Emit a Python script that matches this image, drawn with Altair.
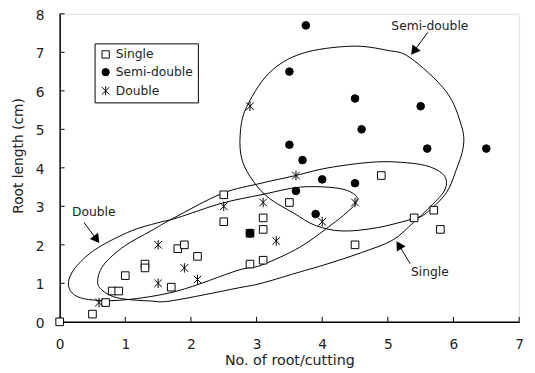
import altair as alt
import pandas as pd

FONT = "DejaVu Sans"

# ---- data ----
series_names = ["Single", "Semi-double", "Double"]

single_x = [0, 0.5, 0.7, 0.8, 0.9, 1.0, 1.3, 1.3, 1.7, 1.8, 1.9, 2.1, 2.5, 2.5, 2.9, 2.9, 3.1, 3.1, 3.1, 3.5, 4.5, 4.9, 5.4, 5.7, 5.8]
single_y = [0, 0.2, 0.5, 0.8, 0.8, 1.2, 1.5, 1.4, 0.9, 1.9, 2.0, 1.7, 3.3, 2.6, 2.3, 1.5, 2.7, 2.4, 1.6, 3.1, 2.0, 3.8, 2.7, 2.9, 2.4]

semi_x = [3.75, 3.5, 4.5, 5.5, 4.6, 3.5, 5.6, 6.5, 3.7, 4.0, 4.5, 3.6, 3.9, 2.9]
semi_y = [7.7, 6.5, 5.8, 5.6, 5.0, 4.6, 4.5, 4.5, 4.2, 3.7, 3.6, 3.4, 2.8, 2.3]

double_x = [0.6, 1.5, 1.5, 1.9, 2.1, 2.5, 2.9, 2.9, 3.1, 3.3, 3.6, 4.0, 4.5]
double_y = [0.5, 2.0, 1.0, 1.4, 1.1, 3.0, 2.3, 5.6, 3.1, 2.1, 3.8, 2.6, 3.1]

# hand-drawn enclosing curves (outline points in data units)
semi_curve_x = [2.75, 2.84, 3.19, 3.69, 4.44, 5.0, 5.34, 5.89, 6.12, 6.15, 6.04, 5.89, 5.59, 5.39, 4.82, 4.3, 3.9, 3.57, 3.2, 2.95, 2.78]
semi_curve_y = [4.85, 5.55, 6.46, 6.97, 7.16, 7.05, 6.86, 5.98, 5.1, 4.55, 3.94, 3.35, 2.83, 2.68, 2.44, 2.36, 2.5, 2.82, 3.2, 3.65, 4.2]

single_curve_x = [0.58, 0.68, 0.99, 1.39, 1.72, 2.47, 3.07, 3.57, 4.09, 4.79, 5.3, 5.65, 5.87, 5.86, 5.62, 5.39, 5.07, 4.6, 4.07, 3.67, 3.07, 2.72, 1.72, 1.39, 0.89, 0.64]
single_curve_y = [1.09, 1.5, 1.97, 2.36, 2.68, 3.33, 3.6, 3.79, 4.0, 4.15, 4.13, 4.02, 3.77, 3.4, 2.95, 2.58, 2.12, 1.8, 1.5, 1.3, 1.0, 0.88, 0.55, 0.54, 0.62, 0.83]

double_curve_x = [0.14, 0.29, 0.59, 1.09, 1.49, 1.79, 2.47, 3.07, 3.67, 4.24, 4.5, 4.52, 4.4, 4.2, 3.67, 3.07, 2.72, 1.79, 0.99, 0.44, 0.19]
double_curve_y = [1.09, 1.51, 1.93, 2.36, 2.57, 2.7, 3.08, 3.3, 3.5, 3.47, 3.3, 3.1, 2.88, 2.6, 1.95, 1.47, 1.34, 0.8, 0.57, 0.58, 0.75]

# annotations
label_text = ["Semi-double", "Double", "Single"]
label_x = [5.64, 0.52, 5.64]
label_y = [7.69, 2.86, 1.30]
arrow_x1 = [5.61, 0.37, 5.34]
arrow_y1 = [7.52, 2.58, 1.51]
arrow_x2 = [5.41, 0.55, 5.18]
arrow_y2 = [7.06, 2.17, 1.96]
arrow_angle = [218, 143, 328]

x_ticks = [0, 1, 2, 3, 4, 5, 6, 7]
y_ticks = [0, 1, 2, 3, 4, 5, 6, 7, 8]

W, H = 467, 313

# ---- tables ----
pts = pd.concat([
    pd.DataFrame({"type": "Single", "x": single_x, "y": single_y}),
    pd.DataFrame({"type": "Semi-double", "x": semi_x, "y": semi_y}),
    pd.DataFrame({"type": "Double", "x": double_x, "y": double_y}),
], ignore_index=True)

curves = pd.concat([
    pd.DataFrame({"name": "semi", "i": range(len(semi_curve_x)), "x": semi_curve_x, "y": semi_curve_y}),
    pd.DataFrame({"name": "single", "i": range(len(single_curve_x)), "x": single_curve_x, "y": single_curve_y}),
    pd.DataFrame({"name": "double", "i": range(len(double_curve_x)), "x": double_curve_x, "y": double_curve_y}),
], ignore_index=True)

ann = pd.DataFrame({"t": label_text, "lx": label_x, "ly": label_y,
                    "x1": arrow_x1, "y1": arrow_y1, "x2": arrow_x2, "y2": arrow_y2,
                    "a": arrow_angle})

xs = alt.Scale(domain=[0, 7], nice=False, zero=False)
ys = alt.Scale(domain=[0, 8], nice=False, zero=False)

x_axis = alt.Axis(values=x_ticks, ticks=False, tickSize=0, grid=False, labelPadding=16,
                  labelFlush=False, labelFontSize=14, labelColor="#222", labelFont=FONT,
                  format="d",
                  title="No. of root/cutting", titleFont=FONT, titleFontSize=14.5,
                  titleFontWeight="normal", titleColor="#222", titleY=43,
                  titleBaseline="alphabetic", domainColor="black", domainWidth=1.5)
y_axis = alt.Axis(values=y_ticks, ticks=False, tickSize=0, grid=False, labelPadding=16,
                  labelFlush=False, labelFontSize=14, labelColor="#222", labelFont=FONT,
                  labelOffset=1.5, format="d",
                  title="Root length (cm)", titleFont=FONT, titleFontSize=14,
                  titleFontWeight="normal", titleColor="#222", titleAngle=270,
                  titleX=-37.5, titleY=144, titleBaseline="alphabetic", titleAlign="center",
                  domainColor="black", domainWidth=1.5)


def X(field):
    return alt.X(field, scale=xs, axis=x_axis, title="No. of root/cutting")


def Y(field):
    return alt.Y(field, scale=ys, axis=y_axis, title="Root length (cm)")


ASTERISK = "M-1,-1L1,1M-1,1L1,-1M0,-1.25L0,1.25"

legend = alt.Legend(title=None, orient="none", legendX=35.5, legendY=30,
                    strokeColor="black", fillColor="white", padding=5,
                    rowPadding=5, symbolSize=55, labelFontSize=12.5, labelFont=FONT,
                    labelColor="#222", symbolStrokeWidth=1, labelOffset=4)

points = alt.Chart(pts).mark_point(opacity=1, strokeWidth=1, size=60).encode(
    x=X("x:Q"), y=Y("y:Q"),
    shape=alt.Shape("type:N", scale=alt.Scale(domain=series_names, range=["square", "circle", ASTERISK]), legend=legend),
    fill=alt.Fill("type:N", scale=alt.Scale(domain=series_names, range=["white", "black", "black"]), legend=legend),
    stroke=alt.Stroke("type:N", scale=alt.Scale(domain=series_names, range=["black", "black", "black"]), legend=legend),
)

curve_layer = alt.Chart(curves).mark_line(interpolate="cardinal-closed", stroke="black", strokeWidth=1).encode(
    x=X("x:Q"), y=Y("y:Q"), detail="name:N", order="i:Q")

arrows = alt.Chart(ann).mark_rule(color="black", strokeWidth=1).encode(
    x=X("x1:Q"), y=Y("y1:Q"), x2="x2:Q", y2="y2:Q")

heads = alt.Chart(ann).mark_point(shape="triangle", filled=True, color="black", opacity=1, size=110).encode(
    x=X("x2:Q"), y=Y("y2:Q"), angle=alt.Angle("a:Q", scale=None))

texts = alt.Chart(ann).mark_text(font=FONT, fontSize=12.5, color="#222").encode(
    x=X("lx:Q"), y=Y("ly:Q"), text="t:N")

xt = alt.Chart(pd.DataFrame({"v": x_ticks})).mark_rule(color="black", strokeWidth=1).encode(
    x=X("v:Q"), y=alt.value(H), y2=alt.value(H - 5))
yt = alt.Chart(pd.DataFrame({"v": y_ticks})).mark_rule(color="black", strokeWidth=1).encode(
    y=Y("v:Q"), x=alt.value(0), x2=alt.value(5))

chart = alt.layer(curve_layer, arrows, heads, texts, xt, yt, points).properties(
    width=W, height=H,
    autosize=alt.AutoSizeParams(type="none"),
    padding={"left": 52.5, "top": 3, "right": 8, "bottom": 44},
).configure_view(stroke="#888", strokeWidth=1).configure(font=FONT)

chart.save("out.html", embed_options={"renderer": "svg", "actions": False})
